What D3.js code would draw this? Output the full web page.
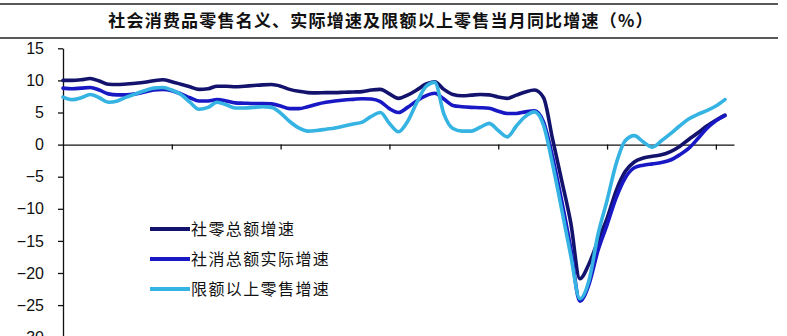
<!DOCTYPE html>
<html>
<head>
<meta charset="utf-8">
<script src="https://cdn.jsdelivr.net/npm/d3@7/dist/d3.min.js"></script>
<style>
  html, body { margin: 0; padding: 0; background: #fff; }
  svg { display: block; }
</style>
</head>
<body>
<svg id="chart" width="787" height="336"></svg>
<script>
// ---- data ----
const titleText = "社会消费品零售名义、实际增速及限额以上零售当月同比增速（%）";
const seriesNames = ["社零总额增速", "社消总额实际增速", "限额以上零售增速"];
const yTicks = [-30, -25, -20, -15, -10, -5, 0, 5, 10, 15];
const xTickIdx = [12, 24, 36, 48, 60, 72];

const nominal = [
  10.0, 10.0, 10.1, 10.3, 9.9, 9.4, 9.35, 9.45, 9.55, 9.7,
  9.95, 10.1, 9.8, 9.4, 9.0, 8.6, 8.7, 9.1, 9.1, 9.0,
  9.1, 9.2, 9.3, 9.35, 9.1, 8.6, 8.3, 8.1, 8.05, 8.1,
  8.1, 8.15, 8.2, 8.25, 8.5, 8.6, 7.9, 7.2, 7.7, 8.5,
  9.4, 9.8, 8.6, 7.8, 7.6, 7.7, 7.8, 7.75, 7.4, 7.2,
  7.7, 8.2, 8.5, 7.3, 0.8, -5.6, -12.2, -20.9, -18.6, -15.0,
  -11.5, -7.2, -4.2, -2.7, -2.1, -1.8, -1.6, -1.1, -0.3, 0.8,
  1.8, 2.9, 3.8, 4.6
];
const real = [
  8.8, 8.7, 8.8, 8.9, 8.5, 7.9, 7.75, 7.75, 7.9, 8.2,
  8.5, 8.6, 8.4, 7.9, 7.3, 6.8, 6.8, 7.0, 6.8, 6.5,
  6.45, 6.4, 6.4, 6.35, 6.0, 5.6, 5.6, 5.9, 6.3, 6.6,
  6.8, 6.95, 7.05, 7.15, 7.1, 6.7, 5.6, 5.0, 5.8, 6.8,
  7.6, 8.0, 7.1, 6.1, 5.9, 5.8, 5.75, 5.65, 5.2, 4.85,
  4.85, 5.1, 5.25, 3.5, -2.0, -8.8, -16.2, -24.4, -21.8, -16.5,
  -12.5, -8.3, -5.2, -3.6, -3.2, -3.0, -2.8, -2.4, -1.6, -0.6,
  0.9, 2.5, 3.7, 4.5
];
const aboveLimit = [
  7.4, 7.0, 7.3, 7.8, 7.3, 6.6, 6.8, 7.4, 7.9, 8.4,
  8.8, 8.9, 8.5, 7.8, 6.6, 5.5, 5.8, 6.6, 6.2, 5.7,
  5.7, 5.8, 5.9, 5.8, 4.9, 3.6, 2.6, 2.1, 2.2, 2.4,
  2.6, 2.9, 3.2, 3.5, 4.4, 5.0, 3.3, 2.0, 3.6, 6.5,
  9.0, 9.7, 4.8, 2.5, 2.1, 2.1, 2.7, 3.3, 2.2, 1.2,
  2.9, 4.4, 5.1, 3.0, -3.1, -10.1, -17.3, -24.0, -21.2, -14.0,
  -8.7, -3.0, 0.6, 1.4, 0.4, -0.4, 0.6, 1.7, 2.9, 4.0,
  4.7, 5.3, 6.0, 7.0
];
const colors = ["#13136e", "#1818c4", "#35b3e2"];

// ---- drawing ----
const svg = d3.select("#chart");

// title rules and text
svg.append("line").attr("x1", 0).attr("x2", 778).attr("y1", 4).attr("y2", 4)
  .attr("stroke", "#222").attr("stroke-width", 1.5);
svg.append("line").attr("x1", 0).attr("x2", 778).attr("y1", 38).attr("y2", 38)
  .attr("stroke", "#222").attr("stroke-width", 1.5);
svg.append("text")
  .attr("x", 381).attr("y", 27)
  .attr("text-anchor", "middle")
  .attr("font-family", "'Noto Sans CJK SC', sans-serif")
  .attr("font-weight", "bold")
  .attr("font-size", 17)
  .attr("letter-spacing", "1.2px")
  .attr("fill", "#111")
  .text(titleText);

const x = d3.scaleLinear().domain([0, 74]).range([63, 734]);
const y = d3.scaleLinear().domain([-30, 15]).range([337.2, 48.3]);

// y axis
const yAxis = svg.append("g")
  .attr("transform", "translate(63,0)")
  .call(d3.axisLeft(y).tickValues(yTicks).tickSize(5).tickPadding(14).tickSizeOuter(0));
yAxis.select(".domain").attr("stroke", "#111").attr("stroke-width", 1.3);
yAxis.selectAll(".tick line").attr("stroke", "#111").attr("stroke-width", 1.3);
yAxis.selectAll(".tick text")
  .attr("font-family", "'Liberation Sans', Arial, sans-serif")
  .attr("font-size", 16)
  .attr("fill", "#111");

// x axis at zero
const xAxis = svg.append("g")
  .attr("transform", `translate(0,${y(0)})`)
  .call(d3.axisBottom(x).tickValues(xTickIdx).tickFormat("").tickSize(5).tickSizeOuter(0));
xAxis.select(".domain").attr("stroke", "#111").attr("stroke-width", 1.3);
xAxis.selectAll(".tick line").attr("stroke", "#111").attr("stroke-width", 1.3);

// lines
const line = d3.line()
  .x((d, i) => x(i))
  .y(d => y(d))
  .curve(d3.curveMonotoneX);

[nominal, real, aboveLimit].forEach((s, k) => {
  svg.append("path")
    .datum(s)
    .attr("fill", "none")
    .attr("stroke", colors[k])
    .attr("stroke-width", 3.6)
    .attr("stroke-linejoin", "round")
    .attr("stroke-linecap", "round")
    .attr("d", line);
});

// legend
const legend = svg.append("g").attr("transform", "translate(150,229)");
seriesNames.forEach((name, k) => {
  const g = legend.append("g").attr("transform", `translate(0,${k * 30})`);
  g.append("line").attr("x1", 0).attr("x2", 40).attr("y1", 0).attr("y2", 0)
    .attr("stroke", colors[k]).attr("stroke-width", 4);
  g.append("text")
    .attr("x", 41).attr("y", 0).attr("dy", "0.36em")
    .attr("font-family", "'Noto Sans CJK SC', sans-serif")
    .attr("font-size", 16)
    .attr("letter-spacing", "1.4px")
    .attr("fill", "#111")
    .text(name);
});
</script>
</body>
</html>
